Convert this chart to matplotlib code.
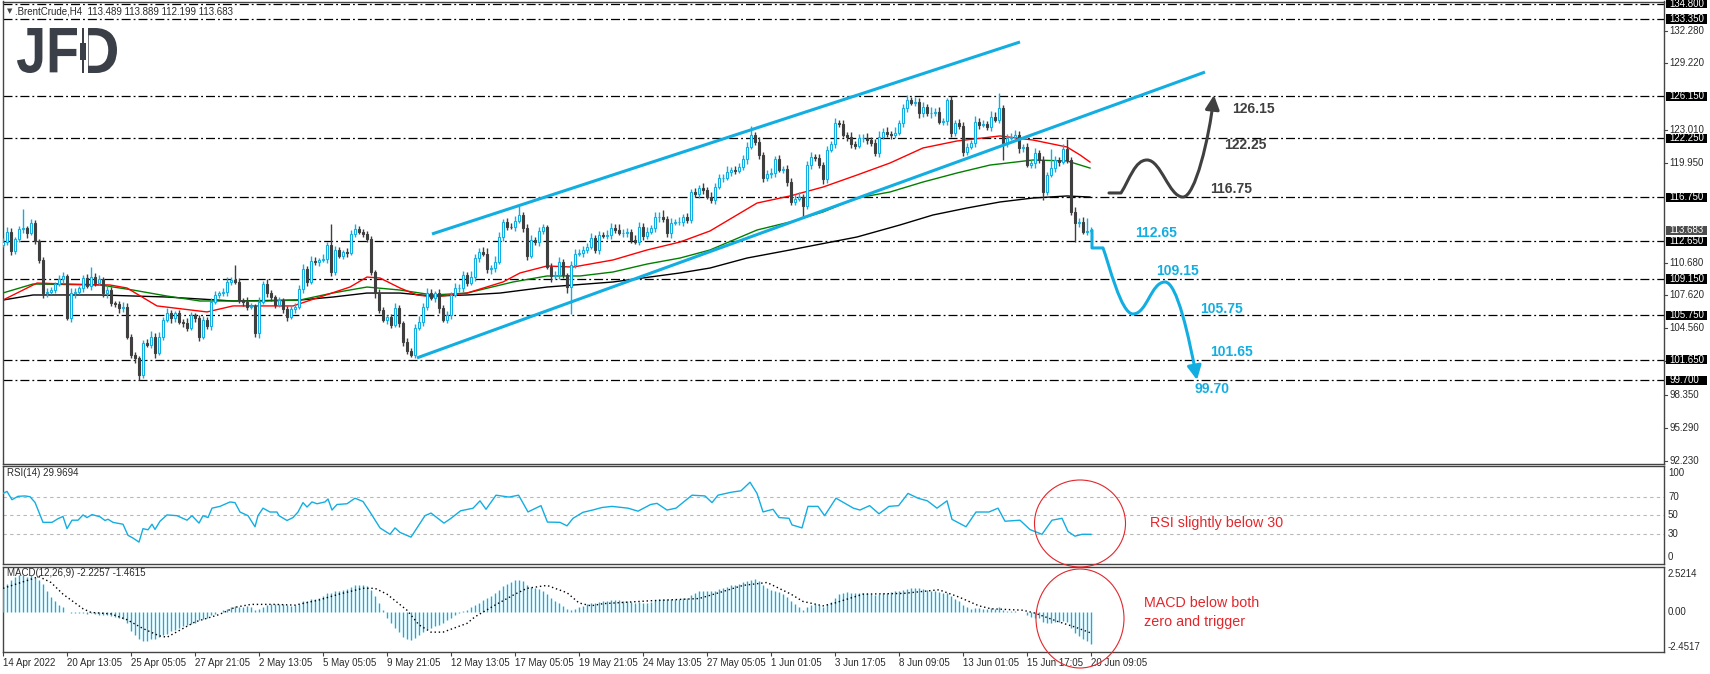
import matplotlib
matplotlib.use("Agg")
import matplotlib.pyplot as plt
import matplotlib.transforms as mtransforms
from matplotlib.patches import Rectangle, Ellipse, FancyArrowPatch, PathPatch
from matplotlib.path import Path
from matplotlib.textpath import TextPath
from matplotlib.font_manager import FontProperties

# ---- Brent crude H4 bars, index 0 = 14 Apr 2022 ----
first_open = 112.30
closes = [
    112.62, 113.56, 111.79, 112.84, 113.77, 113.93, 113.40, 114.33, 112.69, 110.92,
    107.81, 107.94, 108.12, 108.68, 109.12, 109.46, 105.49, 107.81, 107.97, 108.28,
    109.21, 108.50, 109.37, 108.81, 109.12, 107.81, 108.12, 106.88, 106.82, 106.42,
    106.57, 103.78, 102.07, 101.76, 100.21, 103.16, 103.00, 103.78, 102.23, 103.78,
    105.33, 105.95, 105.49, 105.95, 105.18, 105.08, 104.56, 105.80, 105.49, 103.78,
    105.33, 104.77, 107.04, 107.66, 107.81, 107.97, 108.90, 109.05, 108.90, 107.19,
    107.04, 106.57, 106.63, 104.09, 107.04, 108.68, 107.81, 107.50, 106.73, 107.19,
    106.32, 105.64, 106.32, 106.57, 108.19, 110.05, 108.90, 110.86, 110.76, 110.92,
    110.98, 112.31, 109.83, 111.85, 111.29, 111.69, 111.60, 113.34, 113.77, 113.56,
    113.34, 112.84, 109.83, 107.81, 106.26, 105.33, 105.58, 104.87, 106.42, 105.02,
    103.31, 102.48, 102.07, 104.56, 105.18, 106.57, 107.88, 107.35, 107.81, 106.42,
    105.33, 105.80, 107.66, 108.28, 108.35, 109.52, 108.75, 109.37, 111.07, 111.69,
    111.45, 110.05, 110.14, 110.76, 113.09, 114.42, 114.02, 113.96, 114.55, 115.11,
    113.87, 111.29, 112.78, 112.62, 113.62, 113.96, 110.30, 109.43, 109.52, 110.70,
    109.52, 108.43, 110.45, 111.48, 111.60, 111.85, 112.16, 112.94, 111.85, 113.25,
    113.18, 113.25, 113.93, 113.71, 113.40, 113.46, 113.52, 112.78, 112.62, 114.02,
    113.18, 113.56, 113.87, 114.89, 114.95, 114.70, 113.40, 114.39, 114.45, 114.49,
    114.89, 114.64, 117.22, 117.03, 117.59, 117.43, 116.81, 116.50, 117.75, 118.52,
    118.58, 119.14, 119.30, 119.24, 119.61, 120.29, 121.41, 122.56, 121.94, 120.69,
    118.52, 118.93, 118.99, 120.29, 119.30, 119.36, 118.21, 116.35, 116.57, 116.81,
    115.95, 119.76, 120.48, 120.38, 119.76, 118.43, 121.16, 121.72, 123.64, 123.58,
    122.56, 122.34, 121.72, 121.53, 122.25, 122.31, 122.09, 121.78, 120.91, 122.40,
    122.87, 122.65, 122.56, 122.77, 123.70, 125.04, 125.81, 125.57, 125.66, 124.57,
    125.19, 124.57, 124.64, 124.73, 123.80, 123.86, 125.81, 122.71, 123.64, 123.43,
    121.00, 121.41, 121.78, 123.80, 123.49, 123.58, 123.33, 124.26, 123.95, 125.04,
    121.78, 122.25, 122.40, 122.56, 121.31, 121.41, 119.76, 119.92, 120.85, 120.23,
    117.28, 118.83, 119.45, 120.23, 120.07, 121.22, 120.23, 115.42, 114.33, 114.49,
    113.56, 113.62, 113.68,
]
upper_wick = [
    0.3, 0.4, 0.3, 0.2, 0.3, 1.7, 0.2, 0.4, 0.3, 0.2,
    0.3, 0.4, 0.3, 0.2, 0.4, 0.3, 0.2, 0.5, 0.3, 0.2,
    0.3, 0.4, 0.9, 0.3, 0.4, 0.2, 0.4, 0.3, 0.2, 0.3,
    0.4, 0.3, 0.2, 0.3, 0.2, 0.3, 0.4, 0.5, 0.3, 0.4,
    0.3, 0.5, 0.3, 0.2, 0.3, 0.2, 0.4, 0.3, 0.2, 0.3,
    0.4, 0.3, 0.3, 0.4, 0.2, 0.3, 0.4, 0.3, 1.4, 0.3,
    0.2, 0.4, 0.3, 0.2, 0.4, 0.3, 0.5, 0.3, 0.2, 0.3,
    0.2, 0.3, 0.4, 0.3, 0.4, 0.5, 0.3, 0.4, 0.3, 0.2,
    0.5, 0.3, 2.0, 0.4, 0.3, 0.2, 0.3, 0.4, 0.5, 0.3,
    0.2, 0.3, 0.3, 0.2, 0.4, 0.3, 0.2, 0.3, 0.5, 0.3,
    0.2, 0.3, 0.2, 0.4, 0.5, 0.3, 0.4, 0.3, 0.2, 0.4,
    0.3, 0.4, 0.3, 0.5, 0.3, 0.4, 0.3, 0.5, 0.4, 0.3,
    0.4, 0.6, 0.3, 0.5, 0.4, 0.3, 0.4, 0.3, 0.5, 0.8,
    0.3, 0.4, 0.5, 0.3, 0.4, 0.3, 0.2, 0.3, 0.4, 0.5,
    0.3, 0.2, 0.4, 0.5, 0.3, 0.4, 0.3, 0.5, 0.3, 0.4,
    0.3, 0.5, 0.4, 0.3, 0.6, 0.3, 0.4, 0.3, 0.5, 0.4,
    0.3, 0.4, 0.3, 0.5, 0.4, 0.6, 0.3, 0.4, 0.3, 0.4,
    0.3, 0.4, 0.3, 0.4, 0.3, 0.5, 0.3, 0.4, 0.3, 0.4,
    0.3, 0.5, 0.3, 0.4, 0.3, 0.4, 0.5, 0.8, 0.3, 0.4,
    0.3, 0.4, 0.5, 0.3, 0.4, 0.3, 0.4, 0.3, 0.5, 0.4,
    0.3, 0.4, 0.5, 0.3, 0.4, 0.3, 0.4, 0.3, 0.5, 0.3,
    0.4, 0.3, 0.5, 0.3, 0.4, 0.3, 0.4, 0.3, 0.4, 0.5,
    0.3, 0.4, 0.3, 0.5, 0.3, 0.4, 0.5, 0.3, 0.4, 0.3,
    0.4, 0.3, 0.5, 0.3, 0.4, 0.3, 0.2, 0.4, 0.3, 0.4,
    0.3, 0.4, 0.3, 0.5, 0.3, 0.4, 0.3, 0.5, 0.4, 1.4,
    0.3, 0.4, 0.3, 0.5, 0.4, 0.3, 0.4, 0.3, 0.5, 0.3,
    0.4, 0.3, 1.8, 0.4, 0.3, 0.5, 1.0, 0.3, 0.4, 0.3,
    0.4, 1.2, 0.3,
]
lower_wick = [
    0.2, 0.3, 0.4, 0.3, 0.2, 0.3, 0.4, 0.2, 0.3, 0.3,
    0.4, 0.3, 0.2, 0.3, 0.2, 0.3, 0.2, 0.3, 0.4, 0.2,
    0.3, 0.2, 0.4, 0.3, 0.2, 0.3, 0.4, 0.2, 0.3, 0.4,
    0.3, 0.2, 0.3, 0.4, 0.47, 0.3, 0.2, 0.3, 0.4, 0.2,
    0.3, 0.2, 0.4, 0.3, 0.2, 0.4, 0.3, 0.2, 0.3, 0.4,
    0.2, 0.3, 0.4, 0.2, 0.3, 0.2, 0.4, 0.3, 0.2, 0.3,
    0.4, 0.3, 0.2, 0.3, 0.4, 0.2, 0.3, 0.4, 0.3, 0.2,
    0.3, 0.4, 0.2, 0.3, 0.2, 0.3, 0.4, 0.2, 0.3, 0.4,
    0.2, 0.3, 0.4, 0.3, 0.2, 0.3, 0.4, 0.2, 0.3, 0.2,
    0.3, 0.2, 0.3, 0.4, 0.3, 0.2, 0.4, 0.3, 0.2, 0.3,
    0.4, 0.3, 0.2, 0.3, 0.2, 0.4, 0.3, 0.2, 0.3, 0.4,
    0.2, 0.3, 0.4, 0.2, 0.3, 0.4, 0.3, 0.2, 0.4, 0.3,
    0.2, 0.3, 0.4, 0.3, 0.2, 0.4, 0.3, 0.2, 0.3, 0.2,
    0.3, 0.4, 0.2, 0.3, 0.4, 0.3, 0.2, 0.6, 0.3, 0.4,
    0.3, 0.6, 2.5, 0.3, 0.2, 0.4, 0.3, 0.2, 0.3, 0.4,
    0.2, 0.3, 0.4, 0.3, 0.2, 0.3, 0.4, 0.3, 0.2, 0.3,
    0.4, 0.3, 0.2, 0.3, 0.4, 0.2, 0.3, 0.4, 0.2, 0.3,
    0.4, 0.3, 0.3, 0.2, 0.3, 0.4, 0.2, 0.3, 0.4, 0.2,
    0.3, 0.2, 0.4, 0.3, 0.2, 0.3, 0.4, 0.2, 0.3, 0.4,
    0.3, 0.2, 0.4, 0.3, 0.2, 0.3, 0.4, 0.3, 0.3, 0.2,
    1.0, 0.3, 0.4, 0.2, 0.3, 0.4, 0.3, 0.2, 0.4, 0.3,
    0.2, 0.3, 0.4, 0.3, 0.2, 0.3, 0.4, 0.2, 0.3, 0.4,
    0.2, 0.3, 0.4, 0.3, 0.2, 0.4, 0.3, 0.2, 0.3, 0.4,
    0.3, 0.2, 0.4, 0.3, 0.2, 0.3, 0.4, 0.3, 0.2, 0.3,
    0.4, 0.3, 0.2, 0.3, 0.4, 0.2, 0.3, 0.4, 0.2, 0.3,
    1.55, 0.3, 0.2, 0.3, 0.4, 0.3, 0.2, 0.3, 0.4, 0.3,
    0.8, 0.3, 0.2, 0.3, 0.4, 0.2, 0.3, 0.3, 1.7, 0.3,
    0.2, 0.35, 0.2,
]

# moving averages (bar, price) - red / green / black
ma_red_bar = [0, 8.5, 16, 26.75, 31, 38.5, 51, 57.5, 72.5, 78.5, 86.75, 91, 94.25, 99.25, 103.5,
              107.5, 116, 125, 129.25, 136, 142.5, 152.5, 161, 169.25, 176.75, 188.5, 196.75,
              205, 213.5, 221.75, 230, 238.5, 249.25, 257.5, 266, 269.25, 271.75]
ma_red_val = [107.19, 108.77, 108.68, 108.59, 108.31, 106.64, 106.08, 106.64, 106.64, 107.38,
              108.40, 109.33, 109.24, 108.31, 107.66, 107.47, 107.84, 108.87, 109.71, 110.36,
              110.26, 110.92, 111.85, 112.59, 113.62, 116.22, 116.88, 117.71, 118.83, 119.95,
              121.35, 122.00, 122.47, 122.09, 121.44, 120.70, 120.04]
ma_green_bar = [0, 7.5, 24.25, 32.5, 41, 49.25, 66, 74.25, 82.5, 91, 99.25, 107.5, 116, 127.5,
                136, 144.25, 152.5, 161, 169.25, 176.75, 188.5, 196.75, 205, 213.5, 221.75,
                230, 238.5, 246.75, 257.5, 266, 271.75]
ma_green_val = [107.85, 108.68, 108.59, 108.12, 107.56, 107.10, 107.10, 107.19, 107.85, 108.40,
                108.12, 107.66, 107.84, 108.87, 109.43, 109.43, 109.80, 110.54, 111.10, 111.85,
                113.71, 114.46, 115.39, 116.69, 117.25, 118.18, 119.02, 119.76, 120.23, 120.14,
                119.48]
ma_black_bar = [0, 7.5, 24.25, 41, 57.5, 74.25, 82.5, 91, 99.25, 107.5, 116, 124.25, 136, 152.5,
                169.25, 176.75, 186, 196.75, 213.5, 224.25, 232.5, 241, 249.25, 257.5, 266, 271.75]
ma_black_val = [107.19, 107.66, 107.66, 107.47, 107.10, 107.19, 107.47, 107.84, 107.84, 107.56,
                107.66, 107.84, 108.40, 108.87, 109.71, 110.17, 111.10, 111.85, 113.06, 114.18,
                115.11, 115.76, 116.32, 116.69, 116.88, 116.78]

# channel lines (bar, price)
chan_up_bar = [107.25, 254.25]
chan_up_val = [113.34, 131.22]
chan_lo_bar = [103.5, 300.5]
chan_lo_val = [101.80, 128.42]

levels = [134.80, 133.35, 126.15, 122.25, 116.75, 112.65, 109.15, 105.75, 101.65, 99.70]
last_price = 113.683
price_ticks = [132.28, 129.22, 123.01, 119.95, 110.68, 107.62, 104.56, 101.50, 98.35, 95.29, 92.23]

# RSI(14)
rsi_bar = [0, 1, 2.25, 3.75, 5.5, 6.75, 8, 10, 12.25, 13.75, 15, 16, 17.25, 18.75, 20, 21, 22.25,
           24.25, 25.5, 26.25, 27.5, 30, 31.25, 32.5, 34, 35, 36.25, 37.25, 38, 39.25, 41, 43.5,
           46, 47.25, 49, 50, 51.25, 52.25, 54.25, 56.75, 58, 59.25, 61.25, 63, 63.75, 65, 66.75,
           68.5, 69, 71, 72.5, 73.75, 75, 76, 77.25, 78.5, 80.5, 81.25, 82.25, 83.5, 86, 88, 90,
           91.75, 94.25, 96.75, 98, 99.25, 102, 105.5, 107, 110.25, 112, 114.4, 117.5, 119.25,
           120.75, 123.25, 126.5, 128.9, 131.25, 134.5, 136.1, 139.25, 141, 142.5, 145, 147.4,
           149.75, 152.25, 156.25, 158.75, 161.9, 163.5, 166, 168.25, 172.25, 175.5, 177.25,
           178.75, 182, 184.5, 186.75, 188.5, 190, 192.5, 194, 196.5, 197.25, 199.75, 201.25,
           203.75, 205.4, 208.25, 212.6, 214.25, 216.65, 219, 221.5, 223.9, 226.25, 228.75,
           231.1, 233.5, 236, 237.25, 240.75, 243.25, 246.5, 248.75, 250.5, 254.25, 256.75,
           259.75, 262.25, 264.75, 266.25, 268, 269.75, 272]
rsi_val = [73.5, 75.6, 66.8, 70.4, 70.8, 70, 64, 42.7, 42.7, 46.6, 49, 36, 45, 45, 50.6, 47.8, 51,
           48.6, 44.7, 46, 42.7, 40.7, 28.9, 26, 21.7, 36, 34.8, 40.7, 35.2, 43.9, 50.6, 49.8,
           45, 49.8, 41.9, 49.8, 47.8, 57.8, 59.7, 64.4, 63.7, 53.7, 49.8, 38, 49.8, 57.8, 53.7,
           53.7, 49.8, 44.7, 47.8, 53.7, 63.7, 59, 64.4, 62.5, 64.4, 67.6, 55.8, 61.7, 62.5, 68.4,
           64.9, 53.7, 36.8, 30, 36.8, 32, 27, 49.8, 52.6, 41.9, 47, 55, 57.7, 65.6,
           56.6, 71.6, 69.6, 71.6, 53.8, 60.5, 43, 42.7, 39, 47, 53.4, 55.8,
           58.5, 59.7, 57.8, 54.6, 61.7, 62.9, 55.8, 57.8, 71.6, 70.8, 63.7,
           71.6, 74.7, 76.3, 85.4, 73.5, 53.8, 56.6, 47.8, 47, 40, 36.8, 59.7,
           59.7, 49.8, 68.4, 57.8, 55.8, 60.5, 51.8, 59.7, 60.5, 73.5, 68.4,
           65.6, 57.8, 65.6, 45.9, 38, 53.7, 53.7, 57.8, 43.9, 45, 35,
           30, 45, 47, 33, 28, 30, 29.97]

# MACD(12,26,9): main (histogram) per bar, signal sampled
macd_hist = [
    1.7, 1.9,
    2.2, 2.4, 2.5, 2.5, 2.4, 2.5, 2.3, 2.2, 1.9,
    1.4, 1.0, 0.7, 0.45, 0.3,
    -0.05, -0.1, -0.1, -0.12, -0.1, -0.15, -0.12, -0.15, -0.2, -0.2, -0.25, -0.3, -0.35, -0.4, -0.5, -0.8,
    -1.3, -1.6, -1.9, -2.0, -2.0, -1.9, -1.85, -1.75, -1.6,
    -1.5, -1.35, -1.25, -1.1, -1.0, -0.9, -0.85, -0.75, -0.6, -0.5, -0.4, -0.25, -0.15, -0.05,
    0.1, 0.2, 0.3, 0.4, 0.35, 0.3, 0.4, 0.3, 0.15, 0.2,
    0.35, 0.45, 0.5, 0.55, 0.55, 0.5, 0.45, 0.4, 0.45, 0.55, 0.7, 0.75, 0.85, 0.9, 0.95,
    1.1, 1.3, 1.3, 1.4, 1.45, 1.5, 1.55, 1.7, 1.8, 1.85, 1.8, 1.75, 1.5, 1.1, 0.6, 0.1,
    -0.4, -0.8, -1.1, -1.4, -1.7, -1.9, -1.95, -1.8, -1.6, -1.4, -1.2, -1.1, -1.0, -0.9, -0.75, -0.6, -0.4, -0.25,
    -0.1, 0.05, 0.15, 0.3, 0.45,
    0.6, 0.8, 0.95, 1.1, 1.3, 1.5, 1.75, 1.9, 2.0, 2.15, 2.2, 2.1,
    1.8, 1.7, 1.6, 1.55, 1.45, 1.2, 0.95, 0.75, 0.6, 0.4, 0.2, 0.15, 0.2, 0.3,
    0.4, 0.5, 0.6, 0.6, 0.65, 0.7, 0.75, 0.8, 0.8, 0.78, 0.75, 0.72, 0.65, 0.6, 0.65, 0.6,
    0.62, 0.68, 0.8, 0.9, 0.9, 0.85, 0.85, 0.88, 0.9, 0.95, 0.95, 1.15, 1.3, 1.4, 1.45,
    1.45, 1.4, 1.45, 1.55, 1.6, 1.7, 1.8, 1.85, 1.9, 2.0, 2.1, 2.2, 2.25,
    2.1, 1.8, 1.65, 1.5, 1.45, 1.35, 1.2, 1.0, 0.7, 0.5, 0.35, 0.15,
    0.35, 0.45, 0.5, 0.45, 0.3, 0.5, 0.65, 0.95,
    1.2, 1.3, 1.35, 1.3, 1.3, 1.3, 1.3, 1.25, 1.2, 1.15, 1.2, 1.25, 1.3, 1.35, 1.4, 1.45, 1.5,
    1.55, 1.6, 1.6, 1.6, 1.55, 1.5, 1.45, 1.4, 1.35, 1.3, 1.3, 1.1, 0.9, 0.7, 0.45,
    0.3, 0.2, 0.25, 0.25, 0.2, 0.2, 0.25, 0.2, 0.3, 0.1, 0.05, 0.05, 0.05, 0.0, -0.05, -0.25,
    -0.35, -0.4, -0.45, -0.7, -0.75, -0.75, -0.7, -0.7, -0.65, -0.7, -1.1, -1.45, -1.65, -1.85, -2.0, -2.23,
]
sig_bar = [0, 9, 12, 15, 20, 22, 27, 31, 35, 39, 41, 44, 48, 54, 58, 62, 68, 73, 79, 84, 90, 93,
           96, 101, 104, 107, 110, 116, 118, 123, 128, 131, 136, 141, 144, 147, 150, 162, 174,
           179, 185, 191, 197, 200, 205, 208, 215, 225, 234, 239, 244, 247, 255, 258, 264, 268, 272]
sig_val = [1.6, 2.4, 2.0, 1.2, 0.2, -0.05, -0.15, -0.55, -1.15, -1.65, -1.75, -1.3, -0.7, -0.2,
           0.3, 0.5, 0.5, 0.45, 0.8, 1.2, 1.6, 1.6, 1.2, 0.1, -0.9, -1.4, -1.4, -0.8, -0.35, 0.45,
           1.2, 1.6, 1.8, 1.3, 0.6, 0.4, 0.55, 0.75, 0.9, 1.3, 1.8, 2.0, 1.2, 0.7, 0.4, 0.6, 1.2,
           1.25, 1.5, 1.0, 0.4, 0.2, 0.1, -0.1, -0.7, -1.05, -1.46]

tick_bars = list(range(0, 273, 16))
tick_labels = ["14 Apr 2022", "20 Apr 13:05", "25 Apr 05:05", "27 Apr 21:05", "2 May 13:05",
               "5 May 05:05", "9 May 21:05", "12 May 13:05", "17 May 05:05", "19 May 21:05",
               "24 May 13:05", "27 May 05:05", "1 Jun 01:05", "3 Jun 17:05", "8 Jun 09:05",
               "13 Jun 01:05", "15 Jun 17:05", "20 Jun 09:05"]

# scenario paths: (bar, price) key points
up_scn = [(276.5, 117.16), (279.5, 117.16), (286.0, 120.23), (295.0, 116.78), (302.75, 126.27)]
dn_scn = [(272.25, 113.68), (272.25, 112.04), (275.0, 112.04), (282.5, 105.89), (290.5, 108.87), (298.5, 99.74)]
dark_tags = [("126.15", 307.25, 124.98), ("122.25", 305.25, 121.63), ("116.75", 301.75, 117.53)]
blue_tags = [("112.65", 283.0, 113.43), ("109.15", 288.25, 109.92), ("105.75", 299.25, 106.36),
             ("101.65", 301.75, 102.35), ("99.70", 297.75, 98.90)]

BLUE = '#12aee2'
BEAR = '#3f3f3f'
FRAME = '#444444'
TXT = '#2a2a2a'
FONT = ['Liberation Sans', 'DejaVu Sans']

W, H = 1710, 674
fig = plt.figure(figsize=(W / 100, H / 100), dpi=100)
fig.patch.set_facecolor('white')


def box(l, t, r, b):
    return [l / W, 1 - b / H, (r - l) / W, (b - t) / H]


ax = fig.add_axes(box(2.5, 1.5, 1664, 464))
ax_rsi = fig.add_axes(box(2.5, 466, 1664, 564))
ax_macd = fig.add_axes(box(2.5, 567, 1664, 652))
XL = (-0.125, 415.25)
for a in (ax, ax_rsi, ax_macd):
    a.set_xlim(*XL)
    a.set_yticks([])
    for s in a.spines.values():
        s.set_color(FRAME)
        s.set_linewidth(1.0)
ax.set_xticks([])
ax_rsi.set_xticks([])
ax.set_ylim(91.92, 134.99)
ax_rsi.set_ylim(-1.6, 102.66)
ax_macd.set_ylim(-2.76, 3.06)

ax_w = 1664 - 2.5


def xf(px):
    return (px - 2.5) / ax_w


# ---- main panel ----
for lv in levels:
    ax.axhline(lv, color='black', lw=0.9, linestyle=(0, (7.2, 2.4, 1.5, 2.4)), zorder=1)

ax.plot(ma_black_bar, ma_black_val, color='black', lw=1, zorder=2)
ax.plot(ma_green_bar, ma_green_val, color='#008000', lw=1, zorder=2)
ax.plot(ma_red_bar, ma_red_val, color='#ff0000', lw=1, zorder=2)

n = min(len(closes), len(upper_wick), len(lower_wick))
opens = [first_open] + closes[:n - 1]
xs, lows, highs, cols = [], [], [], []
for i in range(n):
    o, c = opens[i], closes[i]
    top, bot = max(o, c), min(o, c)
    bull = c >= o
    col = BLUE if bull else BEAR
    xs.append(i)
    lows.append(bot - lower_wick[i])
    highs.append(top + upper_wick[i])
    cols.append(col)
    ax.add_patch(Rectangle((i - 0.27, bot), 0.54, max(top - bot, 0.04),
                           fc='white' if bull else BEAR, ec=col, lw=0.8, zorder=4))
ax.vlines(xs, lows, highs, colors=cols, lw=1, zorder=3)

ax.plot(chan_up_bar, chan_up_val, color=BLUE, lw=2.2, solid_capstyle='butt', zorder=5)
ax.plot(chan_lo_bar, chan_lo_val, color=BLUE, lw=2.2, solid_capstyle='butt', zorder=5)


def scenario(pts, bend, color):
    verts = [pts[0]]
    codes = [Path.MOVETO]
    k = 1
    while k < len(pts) and pts[k][1] == pts[k - 1][1] or (k < len(pts) and pts[k][0] == pts[k - 1][0]):
        verts.append(pts[k])
        codes.append(Path.LINETO)
        k += 1
    for j in range(k, len(pts)):
        (x0, y0), (x1, y1) = pts[j - 1], pts[j]
        b0, b1 = bend[j - k]
        verts += [(x0 + b0[0], y0 + b0[1]), (x1 - b1[0], y1 - b1[1]), (x1, y1)]
        codes += [Path.CURVE4] * 3
    arr = FancyArrowPatch(path=Path(verts, codes), arrowstyle='-|>,head_length=0.6,head_width=0.3',
                          mutation_scale=14, lw=2.2, color=color, zorder=6)
    ax.add_patch(arr)


scenario(up_scn, [((2.2, 1.3), (3.0, 0.0)), ((3.5, 0.0), (3.5, 0.0)), ((3.0, 0.0), (1.2, 4.0))], '#404040')
scenario(dn_scn, [((1.5, -1.5), (3.0, 0.0)), ((3.5, 0.0), (3.5, 0.0)), ((3.0, 0.0), (2.0, -4.0))], BLUE)

for t, bx, py in dark_tags:
    ax.text(bx, py, t, color='#404040', fontsize=10, fontweight='bold', family=FONT, va='center', ha='left', zorder=7)
for t, bx, py in blue_tags:
    ax.text(bx, py, t, color=BLUE, fontsize=10, fontweight='bold', family=FONT, va='center', ha='left', zorder=7)

tr_main = mtransforms.blended_transform_factory(ax.transAxes, ax.transData)
for v in price_ticks:
    ax.plot([1.0, xf(1667)], [v, v], transform=tr_main, color=FRAME, lw=0.8, clip_on=False)
    ax.text(xf(1669.5), v, f'{v:.3f}', transform=tr_main, ha='left', va='center',
            fontsize=7, color=TXT, family=FONT, clip_on=False)
bh = 9.4 / 10.74
for v, fc in [(lv, 'black') for lv in levels] + [(last_price, '#4d4d4d')]:
    ax.add_patch(Rectangle((xf(1665.7), v - bh / 2), xf(1706.7) - xf(1665.7), bh, transform=tr_main,
                           fc=fc, ec='none', clip_on=False, zorder=8))
    ax.text(xf(1669.5), v, f'{v:.3f}', transform=tr_main, ha='left', va='center',
            fontsize=7, color='white', family=FONT, clip_on=False, zorder=9)

# ---- RSI panel ----
for lv in (70, 50, 30):
    ax_rsi.axhline(lv, color='#b8b8b8', lw=0.8, linestyle=(0, (3, 3)), zorder=1)
ax_rsi.plot(rsi_bar, rsi_val, color=BLUE, lw=1, zorder=3)
tr_rsi = mtransforms.blended_transform_factory(ax_rsi.transAxes, ax_rsi.transData)
for v, s in [(95.5, '100'), (70, '70'), (50, '50'), (30, '30'), (5.9, '0')]:
    ax_rsi.text(xf(1668), v, s, transform=tr_rsi, ha='left', va='center', fontsize=7,
                color=TXT, family=FONT, clip_on=False)
ax_rsi.text(xf(7), 101, 'RSI(14) 29.9694', ha='left', va='top', fontsize=7, color=TXT,
            family=FONT, transform=tr_rsi, zorder=2)

# ---- MACD panel ----
m = len(macd_hist)
ax_macd.vlines(range(m), 0, macd_hist, colors=BLUE, lw=1, zorder=3)
ax_macd.plot(sig_bar, sig_val, color='black', lw=1, linestyle=(0, (1, 2)), zorder=4)
tr_macd = mtransforms.blended_transform_factory(ax_macd.transAxes, ax_macd.transData)
for v, s in [(2.58, '2.5214'), (0.0, '0.00'), (-2.39, '-2.4517')]:
    ax_macd.text(xf(1668), v, s, transform=tr_macd, ha='left', va='center', fontsize=7,
                 color=TXT, family=FONT, clip_on=False)
ax_macd.text(xf(7), 3.0, 'MACD(12,26,9) -2.2257 -1.4615', ha='left', va='top', fontsize=7,
             color=TXT, family=FONT, transform=tr_macd, zorder=2)
ax_macd.set_xticks(tick_bars)
ax_macd.set_xticklabels(tick_labels, ha='left', fontsize=7, family=FONT, color=TXT)
ax_macd.tick_params(axis='x', length=3, width=0.8, pad=1.5, color=FRAME)

# ---- header / logo ----
fig.text(10 / W, 1 - 11 / H, '\u25bc', fontsize=5, color='#444444', ha='center', va='center',
         family=['DejaVu Sans'])
fig.text(15 / W, 1 - 11 / H, '.BrentCrude,H4  113.489 113.889 112.199 113.683', fontsize=7,
         color=TXT, ha='left', va='center', family=FONT)

fp = FontProperties(family='Liberation Sans', weight='bold')
LOGO = '#3a3f48'


def logo_glyphs(s, x0, x1, y0, y1):
    tp = TextPath((0, 0), s, size=100, prop=fp)
    e = tp.get_extents()
    t = mtransforms.Affine2D().translate(-e.x0, -e.y0).scale((x1 - x0) / e.width, (y1 - y0) / e.height)
    t = t.translate(x0, H - y1)
    fig.add_artist(PathPatch(t.transform_path(tp), fc=LOGO, ec='none',
                             transform=mtransforms.IdentityTransform()))


logo_glyphs('JF', 17, 77, 28, 73)
logo_glyphs('D', 80, 117, 28, 73)
idt = mtransforms.IdentityTransform()
fig.add_artist(Rectangle((78.5, H - 74), 9.0, 47, fc='white', ec='none', transform=idt))
fig.add_artist(Rectangle((82.2, H - 73), 1.6, 45, fc=LOGO, ec='none', transform=idt))
fig.add_artist(Rectangle((80.0, H - 60), 6.0, 17, fc=LOGO, ec='none', transform=idt))

# ---- red call-outs ----
RED = '#e3262b'
fig.add_artist(Ellipse((1080 / W, 1 - 523.5 / H), 91 / W, 87 / H, fill=False, ec=RED, lw=0.8,
                       transform=fig.transFigure))
fig.add_artist(Ellipse((1080 / W, 1 - 618.5 / H), 88 / W, 99 / H, fill=False, ec=RED, lw=0.8,
                       transform=fig.transFigure))
fig.text(1150 / W, 1 - 523 / H, 'RSI slightly below 30', color=RED, fontsize=10.3, family=FONT,
         ha='left', va='center')
fig.text(1143.5 / W, 1 - 603 / H, 'MACD below both', color=RED, fontsize=10.3, family=FONT,
         ha='left', va='center')
fig.text(1143.5 / W, 1 - 622 / H, 'zero and trigger', color=RED, fontsize=10.3, family=FONT,
         ha='left', va='center')

fig.savefig('out.png', dpi=100, facecolor='white')
